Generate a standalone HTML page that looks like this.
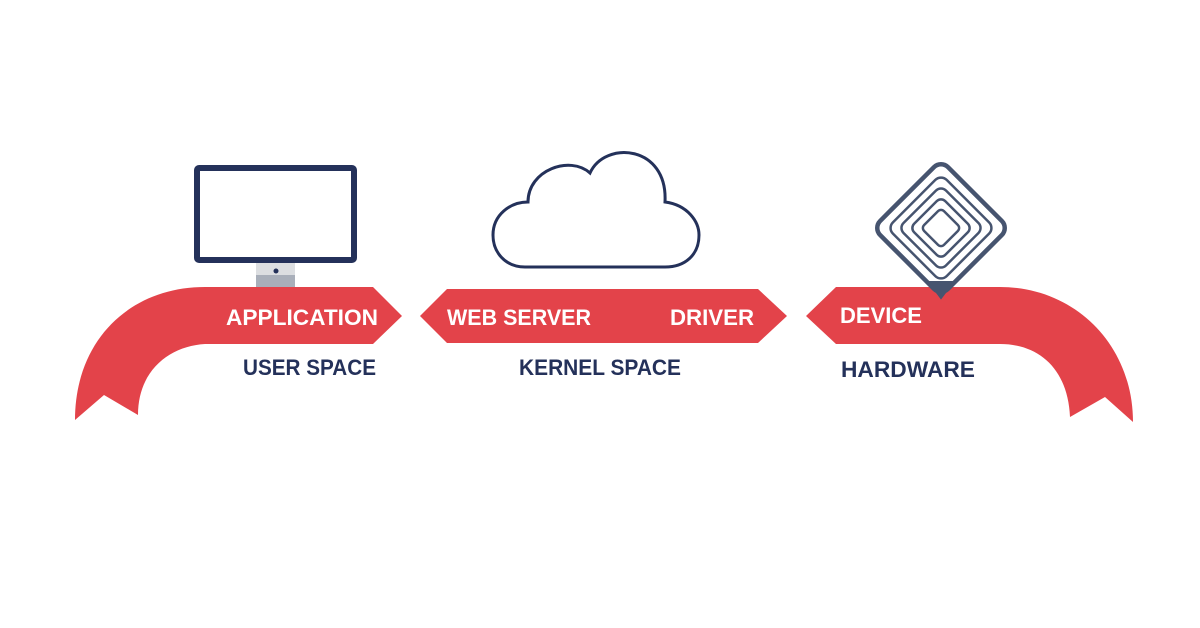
<!DOCTYPE html>
<html><head><meta charset="utf-8"><style>
html,body{margin:0;padding:0;background:#fff;}
svg{display:block;}
text{font-family:"Liberation Sans",sans-serif;font-weight:bold;}
</style></head><body>
<svg width="1200" height="628" viewBox="0 0 1200 628" xmlns="http://www.w3.org/2000/svg">
<rect width="1200" height="628" fill="#fff"/>
<!-- monitor -->
<rect x="197" y="168" width="157" height="92" rx="2" fill="#fff" stroke="#24315a" stroke-width="6"/>
<rect x="256" y="263" width="39" height="12" fill="#dcdee1"/>
<rect x="256" y="275" width="39" height="13" fill="#a9afba"/>
<circle cx="276" cy="271" r="2.5" fill="#24315a"/>
<!-- left ribbon -->
<path d="M373,287 L402,316 L373,344 L205,344 C170,346 138,370 138,415 L104,395 L75,420 C75,340 130,287 205,287 Z" fill="#e3434a"/>
<!-- middle ribbon -->
<path d="M420,316 L447,289 L758,289 L787,316 L758,343 L447,343 Z" fill="#e3434a"/>
<!-- right ribbon -->
<path d="M806,316 L836,287 L1000,287 C1075,287 1133,345 1133,422 L1105,397 L1070,417 C1068,370 1040,344 1000,344 L836,344 Z" fill="#e3434a"/>
<!-- cloud -->
<path d="M528,202 C528,170 570,155 590,173 C605,140 668,145 665,202 C688,205 699,222 699,235 C699,255 685,267 665,267 L525,267 C505,267 493,252 493,235 C493,215 510,202 528,202 Z" fill="#fff" stroke="#24315a" stroke-width="3"/>
<!-- device icon -->
<g stroke="#46546f" fill="none" stroke-linecap="round">
<path d="M929,282 L941,298 L953,282 Z" fill="#46546f" stroke-width="2"/>
<rect x="893" y="180" width="96" height="96" rx="10" transform="rotate(45 941 228)" stroke-width="4.5"/>
<rect x="903" y="190" width="76" height="76" rx="8" transform="rotate(45 941 228)" stroke-width="2.5"/>
<rect x="911" y="198" width="60" height="60" rx="7" transform="rotate(45 941 228)" stroke-width="2.5"/>
<rect x="919" y="206" width="44" height="44" rx="6" transform="rotate(45 941 228)" stroke-width="2.5"/>
<rect x="927" y="214" width="28" height="28" rx="4" transform="rotate(45 941 228)" stroke-width="2.5"/>
</g>
<!-- labels -->
<g fill="#fff" font-size="22">
<text x="226" y="325" textLength="152" lengthAdjust="spacingAndGlyphs">APPLICATION</text>
<text x="447" y="325" textLength="144" lengthAdjust="spacingAndGlyphs">WEB SERVER</text>
<text x="670" y="325" textLength="84" lengthAdjust="spacingAndGlyphs">DRIVER</text>
<text x="840" y="323" textLength="82" lengthAdjust="spacingAndGlyphs">DEVICE</text>
</g>
<g fill="#24315a" font-size="22">
<text x="243" y="375" textLength="133" lengthAdjust="spacingAndGlyphs">USER SPACE</text>
<text x="519" y="375" textLength="162" lengthAdjust="spacingAndGlyphs">KERNEL SPACE</text>
<text x="841" y="377" textLength="134" lengthAdjust="spacingAndGlyphs">HARDWARE</text>
</g>
</svg>
</body></html>
